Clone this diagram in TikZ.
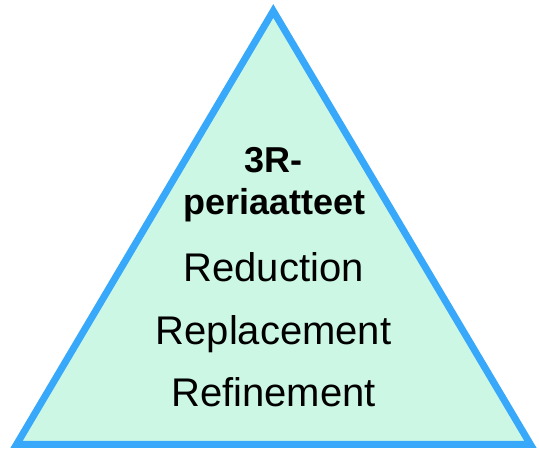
\documentclass[tikz,border=0pt]{standalone}
\usepackage{fontspec}
\setmainfont{Liberation Sans}
\definecolor{triblue}{HTML}{38A8FA}
\definecolor{trifill}{HTML}{CCF7E4}
\begin{document}
\begin{tikzpicture}[x=1pt,y=-1pt,
  tri/.style={draw=triblue,fill=trifill,line width=7pt,line join=miter},
  head/.style={anchor=base,inner sep=0pt,font=\fontsize{36}{40}\selectfont\bfseries},
  item/.style={anchor=base,inner sep=0pt,font=\fontsize{40}{44}\selectfont}]
\useasboundingbox (0,0) rectangle (539,449);
\filldraw[tri] (273.3,11) -- (530.5,444.5) -- (16.5,444.5) -- cycle;
\node[head] (h1) at (273.5,173) {3R-};
\node[head] (h2) at (274.5,215) {periaatteet};
\node[item] (r1) at (273.5,282) {Reduction};
\node[item] (r2) at (273.5,345) {Replacement};
\node[item] (r3) at (273.5,407) {Refinement};
\end{tikzpicture}
\end{document}
